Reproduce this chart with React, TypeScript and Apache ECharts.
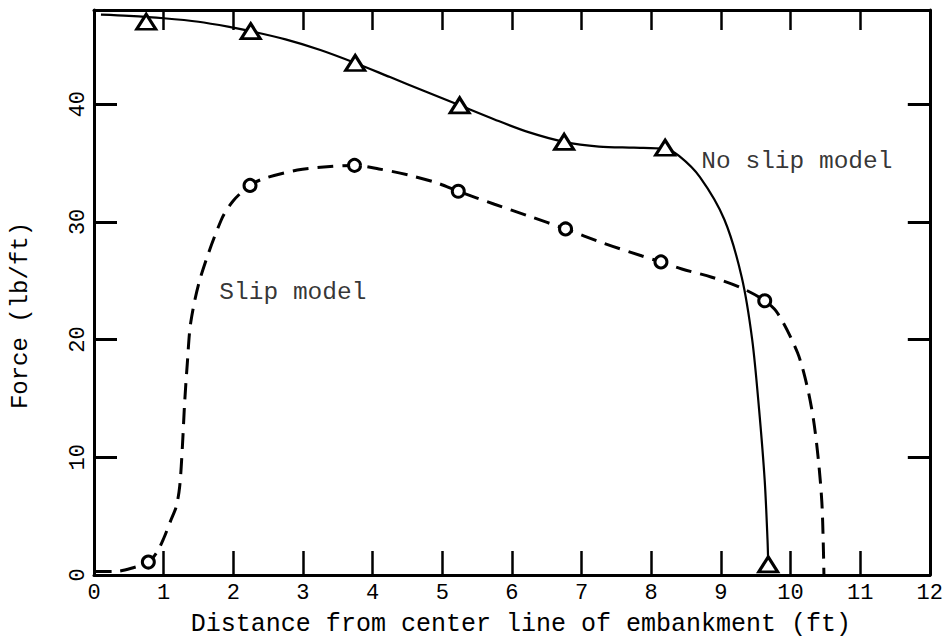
import React, { useEffect, useRef } from "react";
import * as echarts from "echarts";

// x ticks 0..12 (ft), y ticks 0..40 (lb/ft)
const xTicks = [0, 1, 2, 3, 4, 5, 6, 7, 8, 9, 10, 11, 12];
const yTicks = [0, 10, 20, 30, 40];

// Measured points (markers)
const noSlipX = [0.75, 2.25, 3.75, 5.25, 6.75, 8.2, 9.68];
const noSlipY = [47.0, 46.2, 43.5, 39.9, 36.8, 36.3, 0.9];
const slipX = [0.78, 2.24, 3.74, 5.23, 6.77, 8.14, 9.63];
const slipY = [1.1, 33.1, 34.8, 32.6, 29.4, 26.6, 23.3];

// Fitted curves
const noSlipCurveX = [0.1, 0.5, 1.0, 1.5, 2.0, 2.25, 2.75, 3.25, 3.75, 4.25, 4.75, 5.25, 5.75, 6.25, 6.75, 7.25, 7.75, 8.2, 8.4, 8.7, 9.05, 9.3, 9.45, 9.55, 9.63, 9.67, 9.68];
const noSlipCurveY = [47.6, 47.5, 47.3, 47.0, 46.5, 46.2, 45.5, 44.6, 43.5, 42.3, 41.1, 39.9, 38.7, 37.6, 36.8, 36.4, 36.3, 36.2, 35.6, 33.8, 30.2, 25.3, 20.0, 14.0, 8.0, 3.0, 1.0];
const slipCurveX = [0.02, 0.3, 0.55, 0.78, 0.9, 1.0, 1.1, 1.18, 1.23, 1.27, 1.3, 1.34, 1.39, 1.53, 1.83, 2.0, 2.24, 2.45, 2.92, 3.39, 3.74, 4.09, 4.5, 4.93, 5.23, 5.75, 6.24, 6.77, 7.31, 7.87, 8.14, 8.44, 8.87, 9.29, 9.63, 9.82, 10.1, 10.24, 10.33, 10.4, 10.45, 10.47, 10.48];
const slipCurveY = [0.3, 0.3, 0.6, 1.1, 1.9, 3.1, 4.6, 5.8, 7.5, 11.0, 14.5, 18.0, 21.5, 25.3, 30.2, 31.8, 33.1, 33.7, 34.4, 34.7, 34.8, 34.5, 34.0, 33.3, 32.6, 31.5, 30.5, 29.4, 28.2, 27.1, 26.6, 26.0, 25.3, 24.4, 23.3, 22.2, 18.9, 16.0, 13.2, 9.8, 6.2, 2.8, 0.0];

// Annotations anchored in data coordinates
const annotations = [
  { name: "No slip model", x: 8.72, y: 35.1 },
  { name: "Slip model", x: 1.8, y: 24.0 },
];

const FONT = "'Liberation Mono', 'DejaVu Sans Mono', monospace";
const zip = (a: number[], b: number[]) => a.map((v, i) => [v, b[i]]);

export default function App() {
  const ref = useRef<HTMLDivElement>(null);
  useEffect(() => {
    document.body.style.margin = "0";
    if (!ref.current) return;
    const chart = echarts.init(ref.current, undefined, { renderer: "svg" });
    const black = "#000";
    const axisCommon = {
      axisLine: { show: true, onZero: false, lineStyle: { color: black, width: 3 } },
      splitLine: { show: false },
    };
    chart.setOption({
      animation: false,
      backgroundColor: "#fff",
      grid: { left: 84, right: 15, top: 10, bottom: 66, containLabel: false },
      xAxis: [
        {
          type: "value",
          min: xTicks[0],
          max: xTicks[xTicks.length - 1],
          interval: 1,
          position: "bottom",
          ...axisCommon,
          axisTick: { show: true, inside: true, length: 24, lineStyle: { color: black, width: 2.5 } },
          axisLabel: { margin: 7, fontFamily: FONT, fontSize: 22, color: black },
          name: "Distance from center line of embankment (ft)",
          nameLocation: "middle",
          nameGap: 37,
          nameTextStyle: { fontFamily: FONT, fontSize: 25, color: black, padding: [0, 0, 0, 18] },
        },
        {
          type: "value",
          min: xTicks[0],
          max: xTicks[xTicks.length - 1],
          interval: 1,
          position: "top",
          ...axisCommon,
          axisTick: { show: true, inside: true, length: 20, lineStyle: { color: black, width: 2.5 } },
          axisLabel: { show: false },
        },
      ],
      yAxis: [
        {
          type: "value",
          min: yTicks[0],
          max: 48,
          interval: 10,
          position: "left",
          ...axisCommon,
          axisTick: { show: true, inside: true, length: 23, lineStyle: { color: black, width: 3 } },
          axisLabel: { rotate: 90, margin: 5, fontFamily: FONT, fontSize: 22, color: black, showMaxLabel: false },
          name: "Force (lb/ft)",
          nameLocation: "middle",
          nameRotate: 90,
          nameGap: 62,
          nameTextStyle: { fontFamily: FONT, fontSize: 24, color: black, padding: [0, 46, 0, 0] },
        },
        {
          type: "value",
          min: yTicks[0],
          max: 48,
          interval: 10,
          position: "right",
          ...axisCommon,
          axisTick: { show: true, inside: true, length: 22, lineStyle: { color: black, width: 3 } },
          axisLabel: { show: false },
        },
      ],
      series: [
        {
          name: "No slip curve",
          type: "line",
          data: zip(noSlipCurveX, noSlipCurveY),
          smooth: 0.3,
          showSymbol: false,
          symbol: "none",
          lineStyle: { color: black, width: 2.2, type: "solid" },
          z: 2,
        },
        {
          name: "Slip curve",
          type: "line",
          data: zip(slipCurveX, slipCurveY),
          smooth: 0.3,
          showSymbol: false,
          symbol: "none",
          lineStyle: { color: black, width: 3, type: [16, 9] },
          z: 2,
        },
        {
          name: "No slip model",
          type: "scatter",
          data: zip(noSlipX, noSlipY),
          symbol: "triangle",
          symbolSize: [19, 15],
          itemStyle: { color: "#fff", borderColor: black, borderWidth: 3, opacity: 1 },
          z: 5,
        },
        {
          name: "Slip model",
          type: "scatter",
          data: zip(slipX, slipY),
          symbol: "circle",
          symbolSize: 12,
          itemStyle: { color: "#fff", borderColor: black, borderWidth: 3, opacity: 1 },
          z: 5,
        },
        {
          name: "Annotations",
          type: "scatter",
          data: annotations.map((a) => ({ name: a.name, value: [a.x, a.y] })),
          symbolSize: 0,
          silent: true,
          label: {
            show: true,
            position: "right",
            distance: 0,
            formatter: (p: any) => p.name,
            fontFamily: FONT,
            fontSize: 24.5,
            color: black,
          },
          z: 6,
        },
      ],
    });
    return () => chart.dispose();
  }, []);
  return <div ref={ref} style={{ width: 946, height: 642 }} />;
}
